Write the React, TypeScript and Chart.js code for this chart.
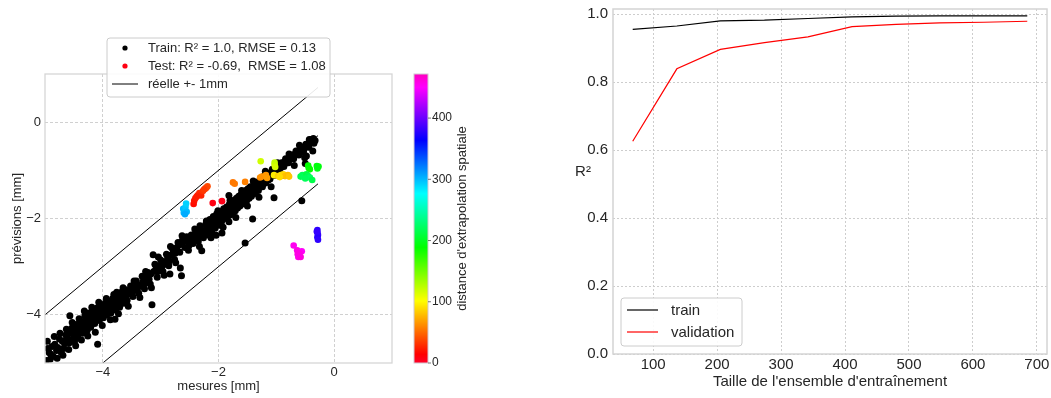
import React, { useEffect, useRef } from 'react';
import { Chart, registerables } from 'chart.js';

Chart.register(...registerables);

const FONT = "'Liberation Sans', Arial, Helvetica, sans-serif";
const TEXT = '#262626';

// ---------- Left panel: measured vs predicted ----------
const trainLabel = 'Train: R\u00b2 = 1.0, RMSE = 0.13';
const testLabel = 'Test: R\u00b2 = -0.69,  RMSE = 1.08';
const lineLabel = 'r\u00e9elle +- 1mm';
const xLabelLeft = 'mesures [mm]';
const yLabelLeft = 'pr\u00e9visions [mm]';
const cbLabel = "distance d'extrapolation spatiale";

const trainPoints: [number, number][] = [
  [-4.98, -4.95], [-4.95, -4.70], [-4.90, -4.82], [-4.86, -4.86], [-4.83, -4.61], [-4.78, -4.68], [-4.72, -4.78], [-4.70, -4.55], [-4.66, -4.60], [-4.62, -4.48],
  [-4.60, -4.40], [-4.57, -4.02], [-4.55, -4.52], [-4.52, -4.36], [-4.50, -4.45], [-4.48, -4.30], [-4.45, -4.40], [-4.42, -4.22], [-4.40, -4.35], [-4.38, -4.28],
  [-4.36, -4.15], [-4.33, -4.20], [-4.30, -4.10], [-4.28, -4.25], [-4.25, -4.05], [-4.22, -4.15], [-4.20, -4.00], [-4.18, -4.12], [-4.15, -3.98], [-4.12, -4.05],
  [-4.09, -4.61], [-4.08, -3.95], [-4.05, -4.02], [-4.02, -3.90], [-4.00, -3.97], [-3.97, -3.88], [-3.95, -3.95], [-3.92, -3.84], [-3.90, -3.90], [-3.88, -3.78],
  [-3.85, -3.85], [-3.82, -3.75], [-3.80, -3.82], [-3.79, -4.09], [-3.77, -3.70], [-3.76, -3.53], [-3.74, -3.78], [-3.72, -3.65], [-3.70, -3.72], [-3.68, -3.60],
  [-3.66, -3.68], [-3.63, -3.58], [-3.60, -3.62], [-3.57, -3.52], [-3.54, -3.57], [-3.50, -3.48], [-3.47, -3.50], [-3.44, -3.42], [-3.40, -3.45], [-3.37, -3.38],
  [-3.34, -3.40], [-3.30, -3.30], [-3.27, -3.34], [-3.23, -3.22], [-3.20, -3.26], [-3.17, -3.15], [-3.15, -3.79], [-3.13, -2.75], [-3.12, -3.10], [-3.08, -3.05],
  [-3.05, -3.10], [-3.02, -2.98], [-2.98, -3.00], [-2.95, -2.90], [-2.92, -2.95], [-2.88, -2.82], [-2.85, -2.88], [-2.84, -3.15], [-2.82, -2.76], [-2.78, -2.70],
  [-2.75, -2.72], [-2.72, -2.60], [-2.68, -2.55], [-2.66, -3.03], [-2.64, -3.19], [-2.64, -2.50], [-2.60, -2.48], [-2.57, -2.44], [-2.53, -2.46], [-2.50, -2.42],
  [-2.46, -2.40], [-2.43, -2.44], [-2.40, -2.36], [-2.36, -2.40], [-2.34, -2.30], [-2.32, -2.15], [-2.30, -2.34], [-2.29, -2.67], [-2.27, -2.25], [-2.24, -2.30],
  [-2.20, -2.20], [-2.17, -2.26], [-2.14, -2.12], [-2.11, -2.18], [-2.08, -2.05], [-2.05, -2.10], [-2.04, -2.35], [-2.02, -1.98], [-2.00, -2.05], [-1.98, -1.95],
  [-1.96, -2.02], [-1.94, -2.30], [-1.93, -1.90], [-1.90, -1.96], [-1.88, -1.85], [-1.85, -1.90], [-1.83, -1.80], [-1.82, -1.52], [-1.80, -1.86], [-1.82, -2.07],
  [-1.78, -1.75], [-1.76, -1.82], [-1.74, -1.70], [-1.72, -1.77], [-1.70, -1.65], [-1.68, -1.72], [-1.66, -1.62], [-1.64, -1.68], [-1.62, -1.58], [-1.60, -1.65],
  [-1.58, -1.55], [-1.56, -1.60], [-1.54, -2.51], [-1.54, -1.50], [-1.52, -1.56], [-1.50, -1.46], [-1.48, -1.52], [-1.46, -1.42], [-1.44, -1.48], [-1.42, -1.38],
  [-1.41, -2.01], [-1.40, -1.44], [-1.38, -1.34], [-1.36, -1.40], [-1.34, -1.30], [-1.32, -1.36], [-1.30, -1.26], [-1.28, -1.32], [-1.25, -1.22], [-1.22, -1.28],
  [-1.20, -1.18], [-1.17, -1.15], [-1.14, -1.20], [-1.12, -1.10], [-1.10, -1.06], [-1.08, -1.12], [-1.04, -1.57], [-1.05, -1.02], [-1.02, -0.98], [-1.00, -1.02],
  [-0.97, -0.95], [-0.94, -0.90], [-0.92, -0.94], [-0.89, -0.86], [-0.86, -0.82], [-0.83, -0.85], [-0.80, -0.78], [-0.77, -0.74], [-0.74, -0.76], [-0.71, -0.70],
  [-0.68, -0.66], [-0.65, -0.64], [-0.62, -0.60], [-0.59, -0.58], [-0.56, -1.63], [-0.56, -0.52], [-0.52, -0.55], [-0.50, -0.86], [-0.48, -0.70], [-0.45, -0.48],
  [-0.42, -0.44], [-0.39, -0.40], [-0.36, -0.34], [-0.33, -0.38],
  [-4.93, -4.78], [-4.88, -4.66], [-4.80, -4.74], [-4.75, -4.50], [-4.68, -4.70], [-4.64, -4.42], [-4.58, -4.58], [-4.54, -4.28], [-4.49, -4.56], [-4.46, -4.20],
  [-4.43, -4.48], [-4.39, -4.18], [-4.35, -4.38], [-4.31, -4.02], [-4.27, -4.32], [-4.24, -3.96], [-4.21, -4.26], [-4.17, -3.92], [-4.14, -4.18], [-4.10, -3.86],
  [-4.06, -4.12], [-4.03, -3.80], [-3.99, -4.06], [-3.96, -3.76], [-3.93, -4.00], [-3.89, -3.72], [-3.86, -3.96], [-3.83, -3.66], [-3.78, -3.90], [-3.75, -3.60],
  [-3.71, -3.84], [-3.67, -3.52], [-3.64, -3.76], [-3.61, -3.48], [-3.58, -3.70], [-3.52, -3.40], [-3.48, -3.62], [-3.42, -3.30], [-3.38, -3.55], [-3.32, -3.20],
  [-3.28, -3.46], [-3.22, -3.12], [-3.18, -3.36], [-3.10, -2.95], [-3.06, -3.22], [-3.00, -2.86], [-2.96, -3.10], [-2.90, -2.74], [-2.86, -2.98], [-2.80, -2.62],
  [-2.76, -2.85], [-2.70, -2.50], [-2.67, -2.70], [-2.62, -2.44], [-2.58, -2.60], [-2.55, -2.38], [-2.51, -2.56], [-2.47, -2.34], [-2.44, -2.52], [-2.39, -2.28],
  [-2.35, -2.48], [-2.31, -2.22], [-2.26, -2.40], [-2.22, -2.12], [-2.18, -2.34], [-2.15, -2.02], [-2.12, -2.28], [-2.09, -1.96], [-2.06, -2.20], [-2.03, -1.90],
  [-1.99, -2.14], [-1.97, -1.86], [-1.95, -2.08], [-1.91, -1.80], [-1.89, -2.00], [-1.86, -1.76], [-1.84, -1.96], [-1.81, -1.70], [-1.79, -1.92], [-1.77, -1.66],
  [-1.75, -1.88], [-1.73, -1.62], [-1.71, -1.84], [-1.69, -1.58], [-1.67, -1.78], [-1.65, -1.54], [-1.63, -1.74], [-1.61, -1.50], [-1.59, -1.70], [-1.57, -1.46],
  [-1.55, -1.66], [-1.53, -1.42], [-1.51, -1.62], [-1.49, -1.38], [-1.47, -1.58], [-1.45, -1.34], [-1.43, -1.54], [-1.39, -1.30], [-1.37, -1.48], [-1.33, -1.24],
  [-1.31, -1.42], [-1.27, -1.18], [-1.24, -1.34], [-1.21, -1.12], [-1.18, -1.26], [-1.15, -1.06], [-1.11, -1.18], [-1.07, -0.98], [-1.03, -1.10], [-0.99, -0.92],
  [-0.95, -1.02], [-0.91, -0.84], [-0.87, -0.92], [-0.84, -0.76], [-0.79, -0.84], [-0.75, -0.68], [-0.70, -0.76], [-0.66, -0.60], [-0.61, -0.68], [-0.57, -0.56],
  [-0.53, -0.62], [-0.49, -0.46], [-0.44, -0.52], [-0.40, -0.36], [-0.35, -0.44],
  [-4.96, -4.55], [-4.91, -4.92], [-4.84, -4.45], [-4.79, -4.90], [-4.74, -4.38], [-4.69, -4.84], [-4.63, -4.30], [-4.59, -4.72], [-4.53, -4.16], [-4.47, -4.64],
  [-4.41, -4.08], [-4.37, -4.52], [-4.32, -3.92], [-4.26, -4.44], [-4.19, -3.84], [-4.13, -4.36], [-4.07, -3.74], [-4.01, -4.22], [-3.94, -3.66], [-3.87, -4.10],
  [-3.81, -3.58], [-3.73, -3.98], [-3.65, -3.44], [-3.56, -3.82], [-3.46, -3.30], [-3.36, -3.64], [-3.26, -3.10], [-3.16, -3.44], [-3.04, -2.80], [-2.94, -3.18],
  [-2.83, -2.58], [-2.74, -2.92], [-2.63, -2.36], [-2.52, -2.66], [-2.41, -2.22], [-2.33, -2.58], [-2.21, -2.05], [-2.13, -2.40], [-2.01, -1.84], [-1.92, -2.18],
  [-1.80, -1.62], [-1.70, -1.98], [-1.60, -1.42], [-1.50, -1.74], [-1.40, -1.22], [-1.30, -1.56], [-1.19, -1.02], [-1.09, -1.34], [-0.98, -0.84], [-0.88, -1.10],
  [-0.78, -0.66], [-0.69, -0.90], [-0.60, -0.48], [-0.51, -0.74], [-0.43, -0.36], [-0.37, -0.60],
];

const testX = [
  -2.61, -2.60, -2.59, -2.57, -2.56, -2.55, -2.58,
  -2.43, -2.42, -2.40, -2.36, -2.33, -2.30, -2.27, -2.23, -2.19, -2.21, -2.38, -2.25,
  -2.10, -1.94,
  -1.75, -1.72, -1.54, -1.28, -1.25, -1.18, -1.16,
  -1.27, -1.03, -1.03, -1.02,
  -1.04, -0.97, -0.92, -0.88, -0.85, -0.80, -0.78, -0.94,
  -0.45, -0.44, -0.30, -0.29, -0.27, -0.42,
  -0.58, -0.55, -0.52, -0.48, -0.45, -0.42, -0.38, -0.50,
  -0.29, -0.29, -0.28, -0.29, -0.28, -0.30,
  -0.70, -0.64, -0.63, -0.62, -0.58, -0.56, -0.60,
];
const testY = [
  -1.80, -1.88, -1.84, -1.76, -1.69, -1.86, -1.91,
  -1.70, -1.63, -1.58, -1.52, -1.47, -1.52, -1.43, -1.38, -1.33, -1.36, -1.55, -1.40,
  -1.68, -1.64,
  -1.25, -1.28, -1.24, -1.15, -1.13, -1.10, -1.16,
  -0.81, -0.84, -0.89, -0.93,
  -1.10, -1.12, -1.10, -1.08, -1.12, -1.10, -1.13, -1.14,
  -0.90, -0.95, -0.91, -0.96, -0.92, -0.98,
  -1.13, -1.10, -1.14, -1.08, -1.12, -1.15, -1.20, -1.17,
  -2.24, -2.29, -2.34, -2.39, -2.44, -2.27,
  -2.56, -2.66, -2.74, -2.80, -2.80, -2.68, -2.72,
];
const testDist = [
  300, 302, 298, 295, 292, 300, 305,
  18, 20, 22, 25, 28, 26, 32, 35, 40, 38, 24, 34,
  8, 6,
  55, 56, 58, 62, 64, 66, 68,
  118, 122, 120, 116,
  95, 85, 92, 88, 80, 78, 82, 90,
  188, 190, 192, 195, 193, 186,
  215, 218, 220, 212, 216, 222, 214, 219,
  378, 380, 382, 376, 379, 381,
  455, 458, 460, 456, 462, 452, 459,
];

const refLineX = [-5, -0.28];
const refOffsets = [1, 0, -1];
const leftTicks = [-4, -2, 0];
const leftMin = -5;
const leftMax = 1;
const cbTicks = [0, 100, 200, 300, 400];
const cbMax = 472;

// ---------- Right panel: learning curve ----------
const trainSizes = [68, 137, 205, 274, 342, 411, 480, 548, 617, 685];
const trainScores = [0.955, 0.965, 0.980, 0.982, 0.987, 0.992, 0.994, 0.995, 0.995, 0.995];
const valScores = [0.626, 0.839, 0.896, 0.916, 0.933, 0.963, 0.970, 0.974, 0.976, 0.979];
const rightXTicks = [100, 200, 300, 400, 500, 600, 700];
const rightYTicks = [0, 0.2, 0.4, 0.6, 0.8, 1.0];
const rightXMin = 37.15;
const rightXMax = 715.85;
const rightYMax = 1.015;
const xLabelRight = "Taille de l'ensemble d'entra\u00eenement";
const yLabelRight = 'R\u00b2';
const seriesTrain = 'train';
const seriesVal = 'validation';

// gist_rainbow colormap
const GR: number[][] = [
  [0.0, 1, 0, 0.16], [0.03, 1, 0, 0], [0.215, 1, 1, 0], [0.4, 0, 1, 0],
  [0.586, 0, 1, 1], [0.77, 0, 0, 1], [0.954, 1, 0, 1], [1.0, 1, 0, 0.75],
];
function cmap(t: number): string {
  const v = Math.max(0, Math.min(1, t));
  for (let i = 0; i < GR.length - 1; i++) {
    const a = GR[i], b = GR[i + 1];
    if (v >= a[0] && v <= b[0]) {
      const f = (v - a[0]) / (b[0] - a[0]);
      const r = Math.round(255 * (a[1] + f * (b[1] - a[1])));
      const g = Math.round(255 * (a[2] + f * (b[2] - a[2])));
      const bb = Math.round(255 * (a[3] + f * (b[3] - a[3])));
      return `rgb(${r},${g},${bb})`;
    }
  }
  return 'rgb(255,0,191)';
}

const minusFmt = (v: number) => (v < 0 ? '\u2212' + Math.abs(v) : String(v));

function roundRect(ctx: CanvasRenderingContext2D, x: number, y: number, w: number, h: number, r: number) {
  ctx.beginPath();
  ctx.moveTo(x + r, y);
  ctx.lineTo(x + w - r, y);
  ctx.quadraticCurveTo(x + w, y, x + w, y + r);
  ctx.lineTo(x + w, y + h - r);
  ctx.quadraticCurveTo(x + w, y + h, x + w - r, y + h);
  ctx.lineTo(x + r, y + h);
  ctx.quadraticCurveTo(x, y + h, x, y + h - r);
  ctx.lineTo(x, y + r);
  ctx.quadraticCurveTo(x, y, x + r, y);
  ctx.closePath();
}

const fixSize = (prop: 'width' | 'height', size: number) => (s: any) => {
  s[prop] = size;
  s.paddingTop = 0;
  s.paddingBottom = 0;
  s.paddingLeft = 0;
  s.paddingRight = 0;
};

const leftDecor = {
  id: 'leftDecor',
  afterDraw(chart: any) {
    const { ctx, chartArea: a, scales } = chart;
    ctx.save();
    // axes frame
    ctx.strokeStyle = '#d4d4d4';
    ctx.lineWidth = 1.25;
    ctx.strokeRect(a.left, a.top, a.right - a.left, a.bottom - a.top);

    // colorbar
    const cb = scales.cb;
    const yTop = cb.getPixelForValue(cbMax);
    const yBot = cb.getPixelForValue(0);
    const x0 = cb.left + 22;
    const w = 14;
    for (let py = yTop; py < yBot; py += 1) {
      const v = cb.getValueForPixel(py + 0.5);
      ctx.fillStyle = cmap(v / cbMax);
      ctx.fillRect(x0, py, w, Math.min(1, yBot - py));
    }
    ctx.strokeStyle = 'rgba(210,200,210,1)';
    ctx.lineWidth = 1;
    ctx.strokeRect(x0, yTop, w, yBot - yTop);
    ctx.strokeStyle = '#555';
    ctx.lineWidth = 0.8;
    cbTicks.forEach((t) => {
      const py = cb.getPixelForValue(t);
      ctx.beginPath();
      ctx.moveTo(x0 + w, py);
      ctx.lineTo(x0 + w + 3, py);
      ctx.stroke();
    });
    // colorbar label
    ctx.save();
    ctx.translate(462, (yTop + yBot) / 2);
    ctx.rotate(-Math.PI / 2);
    ctx.fillStyle = TEXT;
    ctx.font = `13px ${FONT}`;
    ctx.textAlign = 'center';
    ctx.textBaseline = 'middle';
    ctx.fillText(cbLabel, 0, 0);
    ctx.restore();

    // legend
    const lx = 107, ly = 38, lw = 223, lh = 59;
    roundRect(ctx, lx, ly, lw, lh, 3);
    ctx.fillStyle = 'rgba(255,255,255,0.9)';
    ctx.fill();
    ctx.strokeStyle = '#cccccc';
    ctx.lineWidth = 1;
    ctx.stroke();
    ctx.font = `13px ${FONT}`;
    ctx.textAlign = 'left';
    ctx.textBaseline = 'middle';
    const rows = [
      { label: trainLabel, kind: 'dot', color: '#000' },
      { label: testLabel, kind: 'dot', color: cmap(testDist[19] / cbMax) },
      { label: lineLabel, kind: 'line', color: '#000' },
    ];
    rows.forEach((r, i) => {
      const cy = ly + 10 + i * 18;
      if (r.kind === 'dot') {
        ctx.fillStyle = r.color;
        ctx.beginPath();
        ctx.arc(lx + 18, cy, 2.6, 0, Math.PI * 2);
        ctx.fill();
      } else {
        ctx.strokeStyle = r.color;
        ctx.lineWidth = 1;
        ctx.beginPath();
        ctx.moveTo(lx + 5, cy);
        ctx.lineTo(lx + 31, cy);
        ctx.stroke();
      }
      ctx.fillStyle = TEXT;
      ctx.fillText(r.label, lx + 41, cy + 0.5);
    });
    ctx.restore();
  },
};

const rightDecor = {
  id: 'rightDecor',
  afterDraw(chart: any) {
    const { ctx, chartArea: a } = chart;
    ctx.save();
    ctx.strokeStyle = '#d4d4d4';
    ctx.lineWidth = 1.5;
    ctx.strokeRect(a.left, a.top, a.right - a.left, a.bottom - a.top);

    // horizontal y-axis label
    ctx.fillStyle = TEXT;
    ctx.font = `15px ${FONT}`;
    ctx.textAlign = 'center';
    ctx.textBaseline = 'middle';
    ctx.fillText(yLabelRight, 58, 172);

    // legend
    const lx = a.left + 8, ly = 298, lw = 121, lh = 48;
    roundRect(ctx, lx, ly, lw, lh, 3);
    ctx.fillStyle = 'rgba(255,255,255,0.9)';
    ctx.fill();
    ctx.strokeStyle = '#cccccc';
    ctx.lineWidth = 1;
    ctx.stroke();
    ctx.textAlign = 'left';
    const ds = chart.data.datasets;
    ds.forEach((d: any, i: number) => {
      const cy = ly + 12 + i * 22;
      ctx.strokeStyle = d.borderColor;
      ctx.lineWidth = 1.2;
      ctx.beginPath();
      ctx.moveTo(lx + 6, cy);
      ctx.lineTo(lx + 37, cy);
      ctx.stroke();
      ctx.fillStyle = TEXT;
      ctx.fillText(d.label, lx + 50, cy + 0.5);
    });
    ctx.restore();
  },
};

export default function App() {
  const leftRef = useRef<HTMLCanvasElement>(null);
  const rightRef = useRef<HTMLCanvasElement>(null);

  useEffect(() => {
    Chart.defaults.font.family = FONT;
    Chart.defaults.color = TEXT;

    const left = new Chart(leftRef.current as HTMLCanvasElement, {
      type: 'scatter',
      data: {
        datasets: [
          {
            label: testLabel,
            data: testX.map((x, i) => ({ x, y: testY[i] })),
            pointBackgroundColor: testDist.map((d) => cmap(d / cbMax)),
            pointBorderWidth: 0,
            pointRadius: 3.3,
            order: 0,
            clip: 0,
          } as any,
          ...refOffsets.map((o) => ({
            label: lineLabel,
            data: refLineX.map((x) => ({ x, y: x + o })),
            showLine: true,
            borderColor: '#000',
            borderWidth: 1,
            pointRadius: 0,
            fill: false,
            order: 1,
            clip: 0,
          })),
          {
            label: trainLabel,
            data: trainPoints.map(([x, y]) => ({ x, y })),
            pointBackgroundColor: '#000',
            pointBorderWidth: 0,
            pointRadius: 3.5,
            order: 2,
            clip: 0,
          } as any,
        ],
      },
      options: {
        animation: false,
        responsive: false,
        devicePixelRatio: 1,
        layout: { padding: { top: 74, left: 0, right: 0, bottom: 0 } },
        plugins: { legend: { display: false }, tooltip: { enabled: false } },
        scales: {
          x: {
            type: 'linear',
            min: leftMin,
            max: leftMax,
            afterBuildTicks: (s: any) => { s.ticks = leftTicks.map((v) => ({ value: v })); },
            afterFit: fixSize('height', 35),
            grid: { color: '#c4c4c4', lineWidth: 0.8, drawTicks: false },
            border: { display: false, dash: [3, 2] },
            ticks: { padding: 2, maxRotation: 0, font: { size: 13 }, color: TEXT, callback: (v: any) => minusFmt(Number(v)) },
            title: { display: true, text: xLabelLeft, font: { size: 13 }, color: TEXT, padding: { top: 0, bottom: 4 } },
          },
          y: {
            type: 'linear',
            position: 'left',
            min: leftMin,
            max: leftMax,
            afterBuildTicks: (s: any) => { s.ticks = leftTicks.map((v) => ({ value: v })); },
            afterFit: fixSize('width', 45),
            grid: { color: '#c4c4c4', lineWidth: 0.8, drawTicks: false },
            border: { display: false, dash: [3, 2] },
            ticks: { padding: 4, font: { size: 13 }, color: TEXT, callback: (v: any) => minusFmt(Number(v)) },
            title: { display: true, text: yLabelLeft, font: { size: 13 }, color: TEXT, padding: { top: 10, bottom: 0 } },
          },
          cb: {
            type: 'linear',
            position: 'right',
            min: 0,
            max: cbMax,
            afterBuildTicks: (s: any) => { s.ticks = cbTicks.map((v) => ({ value: v })); },
            afterFit: fixSize('width', 133),
            grid: { display: false, drawTicks: false },
            border: { display: false },
            ticks: { padding: 40, font: { size: 12 }, color: TEXT },
          },
        },
      } as any,
      plugins: [leftDecor],
    });

    const right = new Chart(rightRef.current as HTMLCanvasElement, {
      type: 'line',
      data: {
        datasets: [
          {
            label: seriesTrain,
            data: trainSizes.map((x, i) => ({ x, y: trainScores[i] })),
            borderColor: '#000000',
            borderWidth: 1.2,
            pointRadius: 0,
            fill: false,
            tension: 0,
          },
          {
            label: seriesVal,
            data: trainSizes.map((x, i) => ({ x, y: valScores[i] })),
            borderColor: '#ff0000',
            borderWidth: 1.2,
            pointRadius: 0,
            fill: false,
            tension: 0,
          },
        ],
      },
      options: {
        animation: false,
        responsive: false,
        devicePixelRatio: 1,
        layout: { padding: { top: 9, left: 0, right: 4, bottom: 0 } },
        plugins: { legend: { display: false }, tooltip: { enabled: false } },
        scales: {
          x: {
            type: 'linear',
            min: rightXMin,
            max: rightXMax,
            afterBuildTicks: (s: any) => { s.ticks = rightXTicks.map((v) => ({ value: v })); },
            afterFit: fixSize('height', 44),
            grid: { color: '#cdcdcd', lineWidth: 1, drawTicks: false },
            border: { display: false, dash: [2, 2] },
            ticks: { padding: 2, maxRotation: 0, font: { size: 15 }, color: TEXT },
            title: { display: true, text: xLabelRight, font: { size: 15 }, color: TEXT, padding: { top: 0, bottom: 7 } },
          },
          y: {
            type: 'linear',
            min: 0,
            max: rightYMax,
            afterBuildTicks: (s: any) => { s.ticks = rightYTicks.map((v) => ({ value: v })); },
            afterFit: fixSize('width', 88),
            grid: { color: '#cdcdcd', lineWidth: 1, drawTicks: false },
            border: { display: false, dash: [2, 2] },
            ticks: { padding: 5, font: { size: 15 }, color: TEXT, callback: (v: any) => Number(v).toFixed(1) },
          },
        },
      } as any,
      plugins: [rightDecor],
    });

    return () => {
      left.destroy();
      right.destroy();
    };
  }, []);

  return (
    <div style={{ position: 'absolute', left: 0, top: 0, width: 1051, height: 398, background: '#ffffff' }}>
      <canvas ref={leftRef} width={525} height={398} style={{ position: 'absolute', left: 0, top: 0, width: 525, height: 398 }} />
      <canvas ref={rightRef} width={526} height={398} style={{ position: 'absolute', left: 525, top: 0, width: 526, height: 398 }} />
    </div>
  );
}
